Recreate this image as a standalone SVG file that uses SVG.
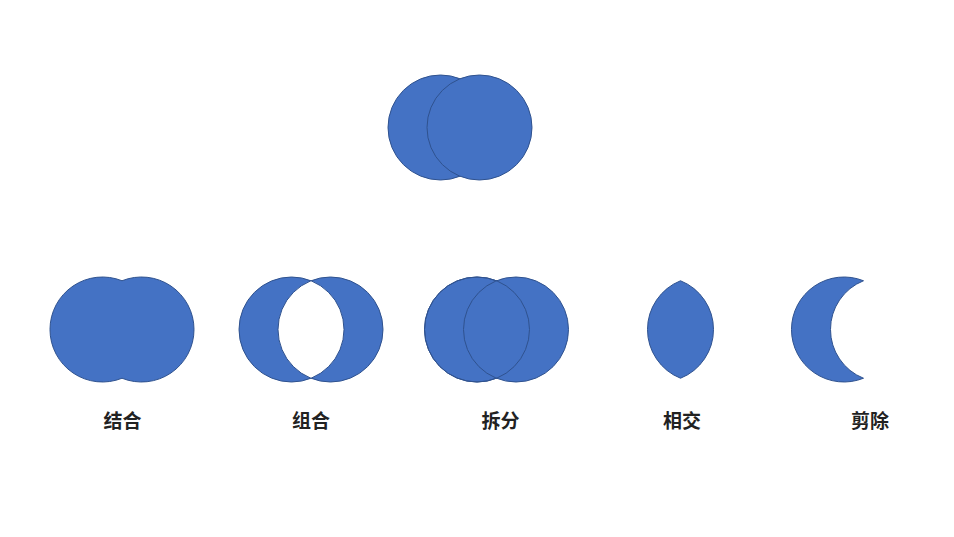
<svg xmlns="http://www.w3.org/2000/svg" width="954" height="537" viewBox="0 0 954 537">
<style>
.f{fill:#4472C4;stroke:#2F528F;stroke-width:1}
.o{fill:none;stroke:#2F528F;stroke-width:1}
.t{font-family:"Noto Sans CJK SC","Noto Sans",sans-serif;font-size:19px;font-weight:bold;fill:#222;text-anchor:middle}
</style>
<rect width="954" height="537" fill="#fff"/>
<g id="top">
<circle class="f" cx="440.5" cy="127.5" r="52.5"/>
<circle class="f" cx="479.5" cy="127.5" r="52.5"/>
</g>
<g id="union">
<path class="f" d="M122,280.76 A52.5,52.5 0 1 0 122,378.24 A52.5,52.5 0 1 0 122,280.76 Z"/>
<text class="t" x="122.5" y="428">结合</text>
</g>
<g id="xor">
<path class="f" fill-rule="evenodd" d="M239,329.5 a52.5,52.5 0 1 0 105,0 a52.5,52.5 0 1 0 -105,0 Z M278,329.5 a52.5,52.5 0 1 0 105,0 a52.5,52.5 0 1 0 -105,0 Z"/>
<text class="t" x="311" y="428">组合</text>
</g>
<g id="fragment">
<circle class="f" cx="477" cy="329.5" r="52.5"/>
<circle class="f" cx="516" cy="329.5" r="52.5"/>
<circle class="o" cx="477" cy="329.5" r="52.5"/>
<text class="t" x="500.5" y="428">拆分</text>
</g>
<g id="intersect">
<path class="f" d="M680.5,280.76 A52.5,52.5 0 0 0 680.5,378.24 A52.5,52.5 0 0 0 680.5,280.76 Z"/>
<text class="t" x="682" y="428">相交</text>
</g>
<g id="subtract">
<path class="f" d="M863.5,280.76 A52.5,52.5 0 1 0 863.5,378.24 A52.5,52.5 0 0 1 863.5,280.76 Z"/>
<text class="t" x="870" y="428">剪除</text>
</g>
<g id="connectors"/>
</svg>
